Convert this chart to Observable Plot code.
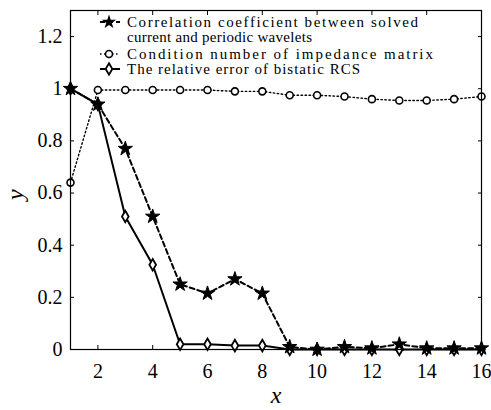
<!DOCTYPE html>
<html><head><meta charset="utf-8">
<script src="https://cdn.jsdelivr.net/npm/d3@7"></script>
<script src="https://cdn.jsdelivr.net/npm/@observablehq/plot@0.6"></script>
<style>
html,body{margin:0;background:#fff;font-family:"Liberation Serif","Times New Roman",Times,serif}
#wrap{position:relative;width:491px;height:410px}
#legend{position:absolute;left:0;top:0;pointer-events:none}
#wrap text{font-family:"Liberation Serif","Times New Roman",Times,serif}
</style>
</head><body><div id="wrap">
<svg id="legend" width="491" height="80" font-size="15">
  <line x1="100" x2="120" y1="22" y2="22" stroke="black" stroke-width="2" stroke-dasharray="5,3"></line>
  <path id="legStar" transform="translate(109,22)" fill="black"></path>
  <line x1="100" x2="120" y1="54" y2="54" stroke="black" stroke-width="1.4" stroke-dasharray="1.5,2.5"></line>
  <circle cx="109" cy="54" r="3.5" fill="white" stroke="black" stroke-width="1.6"></circle>
  <line x1="100" x2="120" y1="69" y2="69" stroke="black" stroke-width="2"></line>
  <path id="legDiamond" transform="translate(109,69)" fill="white" stroke="black" stroke-width="1.8"></path>
  <text x="127" y="22" dy="0.35em" textLength="291" lengthAdjust="spacing">Correlation coefficient between solved</text>
  <text x="127" y="37" dy="0.35em" textLength="185" lengthAdjust="spacing">current and periodic wavelets</text>
  <text x="127" y="54" dy="0.35em" textLength="306" lengthAdjust="spacing">Condition number of impedance matrix</text>
  <text x="127" y="69" dy="0.35em" textLength="233" lengthAdjust="spacing">The relative error of bistatic RCS</text>
</svg>
</div>
<script>
const xs = [1,2,3,4,5,6,7,8,9,10,11,12,13,14,15,16];
const correlation = [1.0,0.94,0.77,0.51,0.25,0.215,0.27,0.215,0.01,0.0,0.01,0.005,0.02,0.005,0.005,0.005];
const conditionNumber = [0.64,0.995,0.995,0.995,0.995,0.995,0.99,0.99,0.975,0.975,0.97,0.96,0.955,0.955,0.96,0.97];
const relativeError = [1.0,0.94,0.51,0.325,0.02,0.02,0.015,0.015,0.0,0.0,0.0,0.0,0.0,0.0,0.0,0.0];
const yTicks = [0,0.2,0.4,0.6,0.8,1,1.2];
const xTicks = [2,4,6,8,10,12,14,16];

const rows = (vals, s) => xs.map((x, i) => ({x, y: vals[i], s}));
const dCorr = rows(correlation, "corr");
const dCond = rows(conditionNumber, "cond");
const dErr = rows(relativeError, "err");

const chart = Plot.plot({
  width: 491, height: 410,
  marginLeft: 70, marginRight: 10, marginTop: 10, marginBottom: 61,
  style: {fontFamily: "Liberation Serif", fontSize: "20px", background: "white", color: "black"},
  x: {domain: [1, 16]},
  y: {domain: [0, 1.3]},
  marks: [
    Plot.axisX({ticks: xTicks, tickSize: -4, tickPadding: 18, fontSize: 20, label: null, tickFormat: d => d}),
    Plot.axisX({anchor: "top", ticks: xTicks, tickSize: -4, tickFormat: () => "", label: null}),
    Plot.axisY({ticks: yTicks, tickSize: -4, tickPadding: 12, fontSize: 20, label: null, tickFormat: d => d}),
    Plot.axisY({anchor: "right", ticks: yTicks, tickSize: -4, tickFormat: () => "", label: null}),
    Plot.lineY(dCond, {x: "x", y: "y", stroke: "black", strokeWidth: 1.4, strokeDasharray: "1.5,2.5"}),
    Plot.lineY(dCorr, {x: "x", y: "y", stroke: "black", strokeWidth: 2, strokeDasharray: "5,3"}),
    Plot.lineY(dErr, {x: "x", y: "y", stroke: "black", strokeWidth: 2}),
    Plot.dot(dCond, {x: "x", y: "y", symbol: "circle", r: 3.5, fill: "white", stroke: "black", strokeWidth: 1.6}),
    Plot.dot(dErr, {x: "x", y: "y", symbol: "diamond", r: 3.5, fill: "white", stroke: "black", strokeWidth: 1.8}),
    Plot.dot(dCorr, {x: "x", y: "y", symbol: "star", r: 4.5, fill: "black", stroke: "black", strokeWidth: 1}),
    Plot.frame({stroke: "black", strokeWidth: 1.2}),
    Plot.text(["x"], {frameAnchor: "bottom", dy: 53, fontStyle: "italic", fontSize: 24}),
    Plot.text(["y"], {frameAnchor: "left", dx: -55, dy: 20, rotate: -90, fontStyle: "italic", fontSize: 24})
  ]
});
const wrap = document.getElementById("wrap");
wrap.insertBefore(chart, wrap.firstChild);

d3.select("#legStar").attr("d", d3.symbol(d3.symbolStar, Math.PI * 4.5 * 4.5)());
d3.select("#legDiamond").attr("d", d3.symbol(d3.symbolDiamond, Math.PI * 3.5 * 3.5)());
</script>
</body></html>
